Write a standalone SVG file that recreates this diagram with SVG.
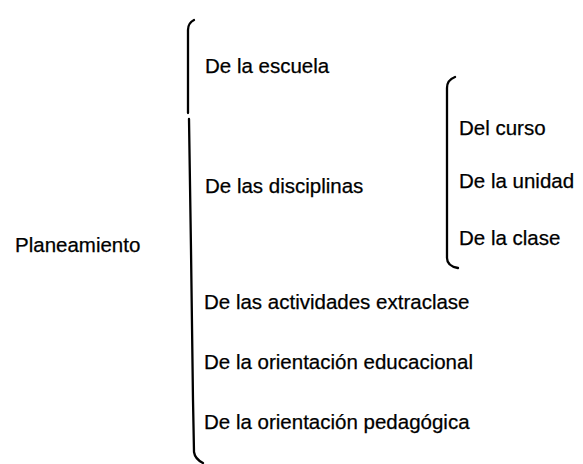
<svg xmlns="http://www.w3.org/2000/svg" width="583" height="464" viewBox="0 0 583 464">
<style>
  .t { font-family: "Liberation Sans", Arial, sans-serif; font-size: 20.5px; fill: #000; stroke: #000; stroke-width: 0.25; }
  .br { fill: none; stroke: #000; stroke-width: 2.3; stroke-linecap: round; stroke-linejoin: round; }
</style>
<rect width="583" height="464" fill="#fff"/>
<g id="connectors">
  <path class="br" d="M194,20 Q188,23 188,30 L188,113"/>
  <path class="br" d="M189,119 L191,250 L193,400 L194,452 Q195,459 203,463"/>
  <path class="br" d="M455,77 Q447,80 447,88 L447,258 Q447,266 458,268"/>
</g>
<g id="planeamiento"><text class="t" x="15" y="252">Planeamiento</text></g>
<g id="escuela"><text class="t" x="205" y="73">De la escuela</text></g>
<g id="disciplinas"><text class="t" x="205" y="193">De las disciplinas</text></g>
<g id="curso"><text class="t" x="459" y="135">Del curso</text></g>
<g id="unidad"><text class="t" x="459" y="188">De la unidad</text></g>
<g id="clase"><text class="t" x="459" y="245">De la clase</text></g>
<g id="actividades"><text class="t" x="204" y="309">De las actividades extraclase</text></g>
<g id="educacional"><text class="t" x="204" y="369">De la orientación educacional</text></g>
<g id="pedagogica"><text class="t" x="204" y="429">De la orientación pedagógica</text></g>
</svg>
